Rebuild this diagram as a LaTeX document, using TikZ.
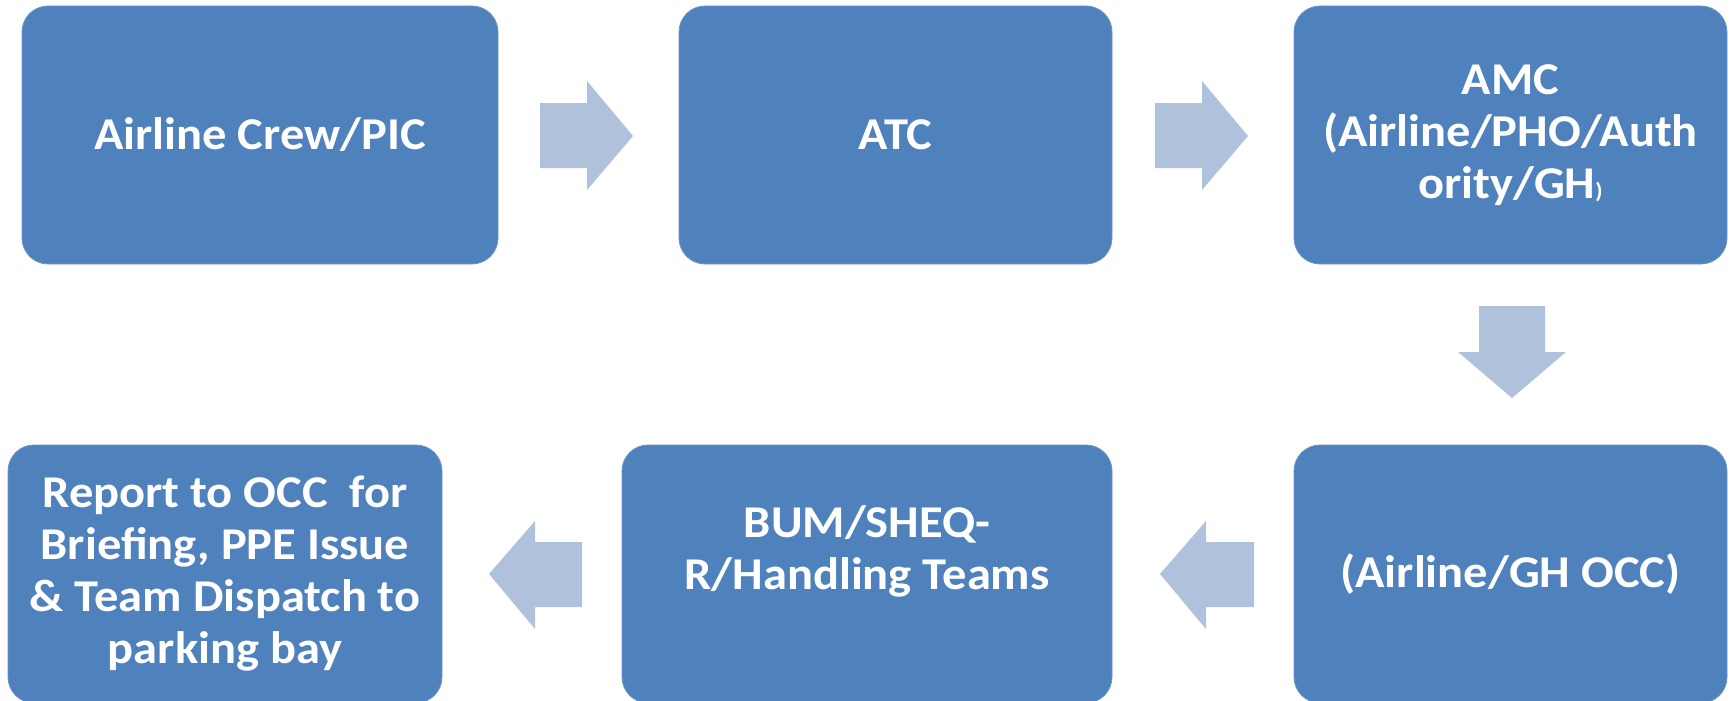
\documentclass[tikz,border=0pt]{standalone}
\usepackage{fontspec}
\setmainfont{Carlito}[FakeStretch=1.065]
\definecolor{boxblue}{HTML}{4F81BD}
\definecolor{arrowblue}{HTML}{B0C1DC}
\begin{document}
\begin{tikzpicture}[x=1pt,y=-1pt,
  box/.style={fill=boxblue, draw=boxblue!85!white, line width=0.8pt, rounded corners=26pt,
    inner sep=0pt, text=white, align=center,
    font=\fontsize{45.5}{52}\selectfont\bfseries},
  flow/.style={fill=arrowblue, draw=none}]
\useasboundingbox (0,0) rectangle (1733,701);
% boxes
\node[box, minimum width=476pt, minimum height=258pt] (b1) at (260,135) {Airline Crew/PIC};
\node[box, minimum width=433pt, minimum height=258pt] (b2) at (895.5,135) {ATC};
\node[box, minimum width=433pt, minimum height=258pt] (b3) at (1510.5,135)
  {AMC\\(Airline/PHO/Auth\\ority/GH{\fontsize{22}{26}\selectfont)}};
\node[box, minimum width=433pt, minimum height=258pt] (b4) at (1510.5,574) {(Airline/GH OCC)};
\node[box, minimum width=490pt, minimum height=258pt] (b5) at (867,574)
  {BUM/SHEQ-\\R/Handling Teams\\\mbox{}};
\node[box, minimum width=434pt, minimum height=258pt] (b6) at (225,574)
  {Report to OCC\ \ for\\Briefing, PPE Issue\\\& Team Dispatch to\\parking bay};
% block arrows
\fill[flow] (540,103) -- (587,103) -- (587,81) -- (633,136) -- (587,190) -- (587,168) -- (540,168) -- cycle;
\fill[flow] (1155,103) -- (1202,103) -- (1202,81) -- (1248,136) -- (1202,190) -- (1202,168) -- (1155,168) -- cycle;
\fill[flow] (1479,306) -- (1545,306) -- (1545,352) -- (1566,352) -- (1512,398) -- (1458,352) -- (1479,352) -- cycle;
\fill[flow] (1254,542) -- (1206,542) -- (1206,521) -- (1160,574) -- (1206,629) -- (1206,607) -- (1254,607) -- cycle;
\fill[flow] (582,542) -- (535,542) -- (535,521) -- (489,574) -- (535,629) -- (535,607) -- (582,607) -- cycle;
\end{tikzpicture}
\end{document}
